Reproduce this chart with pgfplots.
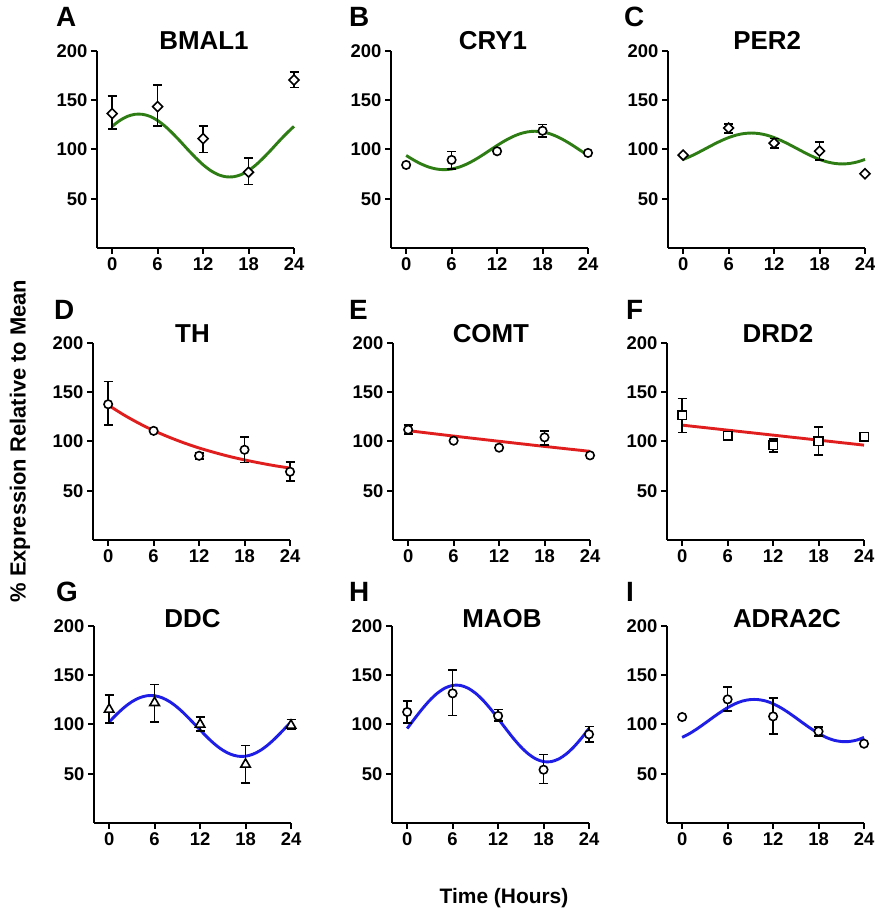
\documentclass[border=0pt]{standalone}
\usepackage{pgfplots}
\pgfplotsset{compat=1.18}
\usepackage{fontspec}
\setmainfont{Liberation Sans}
\definecolor{cgreen}{RGB}{46,125,20}
\definecolor{cred}{RGB}{225,30,30}
\definecolor{cblue}{RGB}{30,30,230}
\newcommand\ticksfont{\fontsize{18.5}{20}\selectfont\bfseries}
\newcommand\titlefont{\fontsize{26}{28}\selectfont\bfseries}
\newcommand\letterfont{\fontsize{28}{30}\selectfont\bfseries}
\pgfplotsset{
 panel/.style={
   width=197bp, height=197bp, scale only axis,
   xmin=-2, xmax=24, ymin=0, ymax=200,
   axis lines*=left,
   axis line style={line width=2bp, black},
   xtick={0,6,12,18,24}, ytick={50,100,150,200},
   tick align=outside, major tick length=6bp,
   tick style={line width=2bp, black},
   ticklabel style={font=\ticksfont},
   /pgf/number format/assume math mode=true,
   clip=false,
   anchor=south west,
 },
 curve/.style={line width=2.9bp, no markers, smooth},
 ebar/.style={draw=none, mark=none, forget plot,
   error bars/y dir=both, error bars/y explicit,
   error bars/error mark options={rotate=90, mark size=4.5bp, line width=1.7bp, black},
   error bars/error bar style={draw=black, line width=1.7bp}},
 pts/.style={only marks, mark options={fill=white, draw=black, line width=1.6bp}},
 dia/.style={only marks, mark=square*, mark size=3.5bp, mark options={fill=white, draw=black, line width=1.6bp, rotate=45}},
}
\begin{document}
\begin{tikzpicture}[x=1bp,y=1bp]
\useasboundingbox (0,0) rectangle (875,910);
% ---------- A BMAL1
\begin{axis}[panel, at={(97bp,662bp)}]
\addplot[curve, cgreen] coordinates {(0,123.5)(1,129.4)(2,133.6)(3,135.7)(4,135.7)(5,133.6)(6,129.4)(7,123.5)(8,116.2)(9,108.2)(10,99.8)(11,91.8)(12,84.5)(13,78.6)(14,74.4)(15,72.3)(16,72.3)(17,74.4)(18,78.6)(19,84.5)(20,91.8)(21,99.8)(22,108.2)(23,116.2)(24,123.5)};
\addplot[ebar] coordinates {(0,137.6) +- (0,17) (6,144.7) +- (0,20.7) (12,110.5) +- (0,13.5) (18,78) +- (0,13.4) (24,171) +- (0,8)};
\addplot[dia] coordinates {(0,136.5)(6,143.5)(12,111)(18,77)(24,170.5)};
\node[anchor=base, font=\titlefont] at (rel axis cs:0.543,1.005) {BMAL1};
\end{axis}
% ---------- B CRY1
\begin{axis}[panel, at={(391bp,662bp)}]
\addplot[curve, cgreen] coordinates {(0,93.95)(1,89.25)(2,85.21)(3,82.11)(4,80.16)(5,79.5)(6,80.16)(7,82.11)(8,85.21)(9,89.25)(10,93.95)(11,99)(12,104.05)(13,108.75)(14,112.79)(15,115.89)(16,117.84)(17,118.5)(18,117.84)(19,115.89)(20,112.79)(21,108.75)(22,104.05)(23,99)(24,93.95)};
\addplot[ebar] coordinates {(6,89) +- (0,9) (18,119) +- (0,6.5)};
\addplot[pts, mark=*, mark size=4.2bp] coordinates {(0,84.3)(6,89.4)(12,98.2)(18,119)(24,96.5)};
\node[anchor=base, font=\titlefont] at (rel axis cs:0.518,1.005) {CRY1};
\end{axis}
% ---------- C PER2
\begin{axis}[panel, at={(668bp,662bp)}]
\addplot[curve, cgreen] coordinates {(0,89.9)(1,93.15)(2,96.94)(3,101)(4,105.06)(5,108.85)(6,112.1)(7,114.6)(8,116.16)(9,116.7)(10,116.16)(11,114.6)(12,112.1)(13,108.85)(14,105.06)(15,101)(16,96.94)(17,93.15)(18,89.9)(19,87.4)(20,85.84)(21,85.3)(22,85.84)(23,87.4)(24,89.9)};
\addplot[ebar] coordinates {(6,121.6) +- (0,4.6) (12,106.3) +- (0,4.8) (18,98.3) +- (0,9.2)};
\addplot[dia] coordinates {(0,94.3)(6,121.8)(12,106.5)(18,98.4)(24,75.4)};
\node[anchor=base, font=\titlefont] at (rel axis cs:0.503,1.005) {PER2};
\end{axis}
% ---------- D TH
\begin{axis}[panel, at={(93bp,370bp)}]
\addplot[curve, cred] coordinates {(0,137)(2,127.3)(4,118.7)(6,111.1)(8,104.5)(10,98.6)(12,93.4)(14,88.9)(16,84.8)(18,81.3)(20,78.2)(22,75.4)(24,73)};
\addplot[ebar] coordinates {(0,138.7) +- (0,22.1) (12,85.5) +- (0,3) (18,91.7) +- (0,13) (24,69.6) +- (0,9.8)};
\addplot[pts, mark=*, mark size=4.2bp] coordinates {(0,137.8)(6,110.8)(12,85.5)(18,91.6)(24,69.3)};
\node[anchor=base, font=\titlefont] at (rel axis cs:0.505,1.0) {TH};
\end{axis}
% ---------- E COMT
\begin{axis}[panel, at={(393bp,370bp)}]
\addplot[curve, cred] coordinates {(0,111)(6,105.5)(12,100.2)(18,95)(24,90)};
\addplot[ebar] coordinates {(0,112.2) +- (0,4.7) (18,103.5) +- (0,6.8)};
\addplot[pts, mark=*, mark size=4.2bp] coordinates {(0,112)(6,100.8)(12,93.7)(18,104.2)(24,85.9)};
\node[anchor=base, font=\titlefont] at (rel axis cs:0.497,1.0) {COMT};
\end{axis}
% ---------- F DRD2
\begin{axis}[panel, at={(667bp,370bp)}]
\addplot[curve, cred] coordinates {(0,116.6)(24,96.3)};
\addplot[ebar] coordinates {(0,126.4) +- (0,17.2) (12,96) +- (0,6.5) (18,100.5) +- (0,14.4)};
\addplot[pts, mark=square*, mark size=4.3bp] coordinates {(0,126.7)(6,105.7)(12,96.3)(18,100.3)(24,104.7)};
\node[anchor=base, font=\titlefont] at (rel axis cs:0.563,1.0) {DRD2};
\end{axis}
% ---------- G DDC
\begin{axis}[panel, at={(94bp,87bp)}]
\addplot[curve, cblue] coordinates {(0,102.5)(1,110.4)(2,117.4)(3,123.1)(4,127.1)(5,129.2)(6,129.2)(7,127.1)(8,123.1)(9,117.4)(10,110.4)(11,102.5)(12,94.5)(13,86.6)(14,79.6)(15,73.9)(16,69.9)(17,67.8)(18,67.8)(19,69.9)(20,73.9)(21,79.6)(22,86.6)(23,94.5)(24,102.5)};
\addplot[ebar] coordinates {(0,115.7) +- (0,13.9) (6,121.6) +- (0,19.1) (12,100.6) +- (0,7.3) (18,59.8) +- (0,19) (24,100) +- (0,5)};
\addplot[pts, mark=triangle*, mark size=5.5bp] coordinates {(0,115.3)(6,122.1)(12,100.1)(18,59.5)(24,99.1)};
\node[anchor=base, font=\titlefont] at (rel axis cs:0.5,0.99) {DDC};
\end{axis}
% ---------- H MAOB
\begin{axis}[panel, at={(392bp,87bp)}]
\addplot[curve, cblue] coordinates {(0,95.9)(1,106.1)(2,115.9)(3,124.7)(4,131.9)(5,137.0)(6,139.7)(7,139.7)(8,137.0)(9,131.9)(10,124.7)(11,115.9)(12,106.1)(13,95.9)(14,86.1)(15,77.3)(16,70.1)(17,65.0)(18,62.3)(19,62.3)(20,65.0)(21,70.1)(22,77.3)(23,86.1)(24,95.9)};
\addplot[ebar] coordinates {(0,112.7) +- (0,11.5) (6,132.2) +- (0,23) (12,109.6) +- (0,5.7) (18,54.8) +- (0,14.8) (24,90) +- (0,8)};
\addplot[pts, mark=*, mark size=4.2bp] coordinates {(0,112.7)(6,131.6)(12,108.7)(18,54.1)(24,90)};
\node[anchor=base, font=\titlefont] at (rel axis cs:0.558,0.99) {MAOB};
\end{axis}
% ---------- I ADRA2C
\begin{axis}[panel, at={(667bp,87bp)}]
\addplot[curve, cblue] coordinates {(0,86.9)(1,90.9)(2,95.8)(3,101.2)(4,106.8)(5,112.2)(6,117.1)(7,121.1)(8,123.9)(9,125.3)(10,125.3)(11,123.9)(12,121.1)(13,117.1)(14,112.2)(15,106.8)(16,101.2)(17,95.8)(18,90.9)(19,86.9)(20,84.1)(21,82.7)(22,82.7)(23,84.1)(24,86.9)};
\addplot[ebar] coordinates {(6,125.8) +- (0,12.2) (12,108.5) +- (0,18.5) (18,92.8) +- (0,4.6)};
\addplot[pts, mark=*, mark size=4.2bp] coordinates {(0,107.6)(6,125.5)(12,108.2)(18,93)(24,80.5)};
\node[anchor=base, font=\titlefont] at (rel axis cs:0.609,0.99) {ADRA2C};
\end{axis}
% ---------- panel letters
\node[anchor=base west, font=\letterfont, inner sep=0pt] at (56,883) {A};
\node[anchor=base west, font=\letterfont, inner sep=0pt] at (349,883) {B};
\node[anchor=base west, font=\letterfont, inner sep=0pt] at (624,883) {C};
\node[anchor=base west, font=\letterfont, inner sep=0pt] at (54,590) {D};
\node[anchor=base west, font=\letterfont, inner sep=0pt] at (349,590) {E};
\node[anchor=base west, font=\letterfont, inner sep=0pt] at (626,590) {F};
\node[anchor=base west, font=\letterfont, inner sep=0pt] at (56,308) {G};
\node[anchor=base west, font=\letterfont, inner sep=0pt] at (349,308) {H};
\node[anchor=base west, font=\letterfont, inner sep=0pt] at (626,308) {I};
% ---------- shared labels
\node[rotate=90, font=\fontsize{22}{24}\selectfont\bfseries] at (20,469) {\% Expression Relative to Mean};
\node[font=\fontsize{21}{23}\selectfont\bfseries] at (504,12) {Time (Hours)};
\end{tikzpicture}
\end{document}
